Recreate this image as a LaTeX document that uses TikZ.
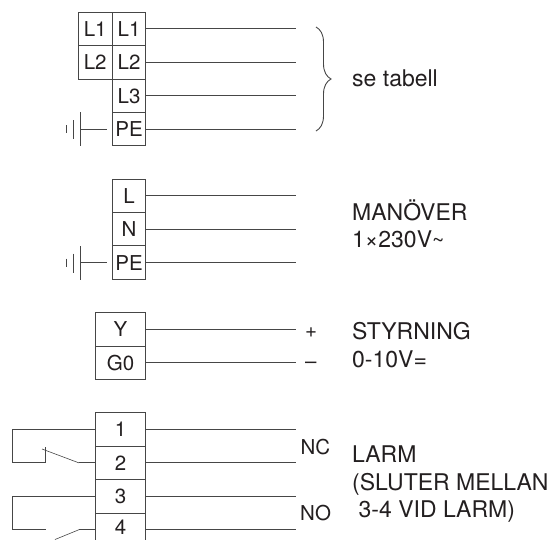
\documentclass[tikz,border=0pt]{standalone}
\usepackage{fontspec}
\setmainfont{TeX Gyre Heros}
\usetikzlibrary{
    decorations.pathreplacing
}
\definecolor{wiregray}{RGB}{70,70,70}
\definecolor{textdark}{RGB}{35,31,32}

\begin{document}
\begin{tikzpicture}[
    x=1pt, y=-1pt,
    term/.style={rectangle, draw=wiregray, line width=0.9pt, inner sep=0pt, minimum width=33.5pt, minimum height=33.4pt, align=center, text=textdark, font=\fontsize{20.5}{20.5}\selectfont},
    wideterm/.style={term, minimum width=50.5pt},
    wire/.style={draw=wiregray, line width=0.9pt},
    thin wire/.style={draw=wiregray, line width=0.6pt},
    label/.style={anchor=base west, inner sep=0pt, align=left, text=textdark, font=\fontsize{23}{27.5}\selectfont},
    small label/.style={anchor=base west, inner sep=0pt, text=textdark, font=\fontsize{20.5}{20.5}\selectfont}
]
\clip (0,0) rectangle (555,539);

% Supply terminals
\node[term] (leftL1) at (95.2, 28.9) {L1};
\node[term] (leftL2) at (95.2, 62.3) {L2};
\node[term] (supL1) at (129, 28.9) {L1};
\node[term] (supL2) at (129, 62.3) {L2};
\node[term] (supL3) at (129, 95.7) {L3};
\node[term] (supPE) at (129, 129.1) {PE};

% Supply wires
\coordinate (endL1) at (296, 28.9);
\coordinate (endL2) at (296, 62.3);
\coordinate (endL3) at (296, 95.7);
\coordinate (endPE) at (296, 129.1);
\draw[wire] (supL1.east) -- (endL1);
\draw[wire] (supL2.east) -- (endL2);
\draw[wire] (supL3.east) -- (endL3);
\draw[wire] (supPE.east) -- (endPE);

% Supply earth
\coordinate (earthA) at (80, 129.1);
\coordinate (earthAend) at (107, 129.1);
\draw[wire] (earthA) -- (earthAend);
\draw[wire] (80, 112.4) -- (80, 146);
\draw[wire] (73.3, 120) -- (73.3, 139);
\draw[wire] (66.6, 125) -- (66.6, 133);

% Brace
\draw[wire, decorate, decoration={brace, amplitude=15pt, aspect=0.5}] (316, 27) -- (316, 131);
\node[label] (tabell) at (352, 86) {se tabell};

% Control supply terminals
\node[term] (manL) at (129, 195.8) {L};
\node[term] (manN) at (129, 229.2) {N};
\node[term] (manPE) at (129, 262.6) {PE};

% Control supply wires
\coordinate (endManL) at (296, 195.8);
\coordinate (endManN) at (296, 229.2);
\coordinate (endManPE) at (296, 262.6);
\draw[wire] (manL.east) -- (endManL);
\draw[wire] (manN.east) -- (endManN);
\draw[wire] (manPE.east) -- (endManPE);

% Control supply earth
\coordinate (earthB) at (80, 262.6);
\coordinate (earthBend) at (107, 262.6);
\draw[wire] (earthB) -- (earthBend);
\draw[wire] (80, 246) -- (80, 279.5);
\draw[wire] (73.3, 253.5) -- (73.3, 272.5);
\draw[wire] (66.6, 258.5) -- (66.6, 266.5);

\node[label] (manover) at (352, 247.5) {MANÖVER\\1×230V{\fontsize{21}{21}\selectfont\textasciitilde}};

% Signal terminals
\node[wideterm] (sigY) at (120.5, 329.3) {Y};
\node[wideterm] (sigG) at (120.5, 362.7) {G0};
\coordinate (endY) at (296, 329.3);
\coordinate (endG) at (296, 362.7);
\draw[wire] (sigY.east) -- (endY);
\draw[wire] (sigG.east) -- (endG);
\node[small label] (plus) at (305, 337) {+};
\node[small label] (minus) at (305, 368) {–};
\node[label] (styrning) at (352, 367) {STYRNING\\0-10V=};

% Alarm terminals
\node[wideterm] (alm1) at (120.5, 429.5) {1};
\node[wideterm] (alm2) at (120.5, 462.9) {2};
\node[wideterm] (alm3) at (120.5, 496.3) {3};
\node[wideterm, anchor=north, minimum height=27pt] (alm4) at (120.5, 513) {\raisebox{-3.2pt}{4}};

% Alarm wires
\coordinate (end1) at (296, 429.5);
\coordinate (end2) at (296, 462.9);
\coordinate (end3) at (296, 496.3);
\coordinate (end4) at (296, 529.7);
\draw[wire] (alm1.east) -- (end1);
\draw[wire] (alm2.east) -- (end2);
\draw[wire] (alm3.east) -- (end3);
\draw[wire] (alm4.east |- end4) -- (end4);

% Contact NC
\coordinate (ncFixed) at (45.5, 462.9);
\coordinate (ncPivot) at (79, 462.9);
\draw[wire] (alm1.west) -| (12, 462.9) -- (ncFixed) -- (45.5, 447);
\draw[thin wire] (ncPivot) -- (42, 449);
\draw[wire] (alm2.west) -- (ncPivot);

% Contact NO
\coordinate (noFixed) at (45.5, 529.7);
\coordinate (noPivot) at (79, 529.7);
\draw[wire] (alm3.west) -| (12, 529.7) -- (noFixed);
\draw[thin wire] (noPivot) -- (55, 539.5);
\draw[wire] (alm4.west |- end4) -- (noPivot);

\node[small label] (nc) at (300.5, 454) {NC};
\node[small label] (no) at (300, 520) {NO};
\node[label] (larm) at (352, 517.7) {LARM\\(SLUTER MELLAN\\\hspace*{6.5pt}3-4 VID LARM)};

\end{tikzpicture}
\end{document}
